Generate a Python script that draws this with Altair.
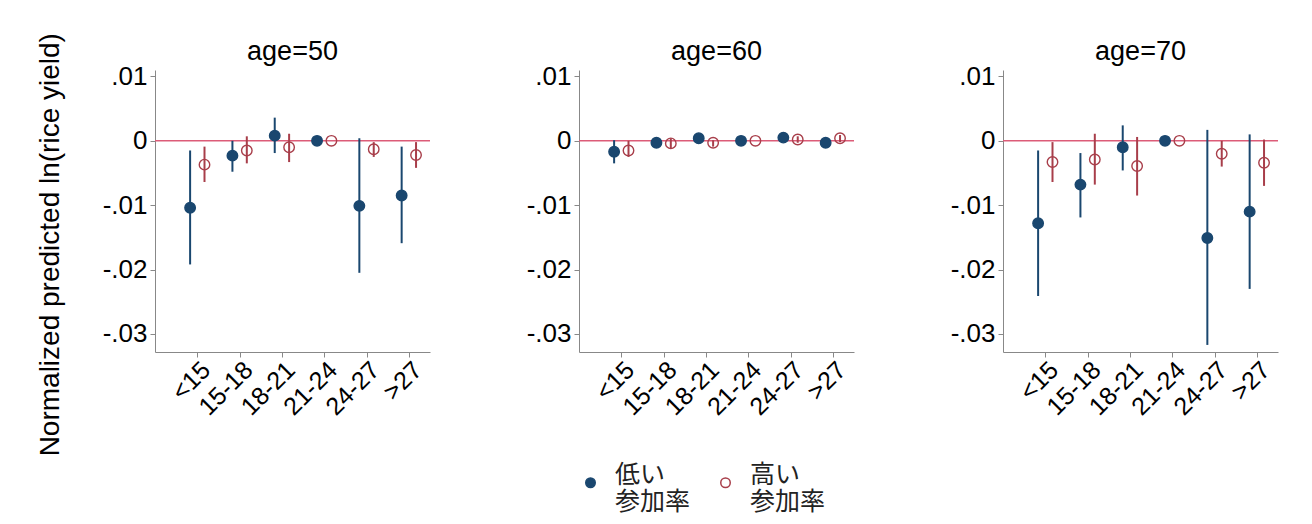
import json
import altair as alt
import pandas as pd

# ---- data ----
categories = ["<15", "15-18", "18-21", "21-24", "24-27", ">27"]
ages = [50, 60, 70]
series_names = ["低い|参加率", "高い|参加率"]

# age=50
low50_est = [-0.0104, -0.0023, 0.0008, 0.0, -0.0101, -0.0085]
low50_lo = [-0.0192, -0.0048, -0.0019, 0.0, -0.0205, -0.0159]
low50_hi = [-0.0015, 0.0000, 0.0036, 0.0, 0.0004, -0.0009]
high50_est = [-0.0037, -0.0015, -0.0010, 0.0, -0.0013, -0.0022]
high50_lo = [-0.0064, -0.0035, -0.0033, 0.0, -0.0025, -0.0042]
high50_hi = [-0.0009, 0.0007, 0.0011, 0.0, -0.0002, -0.0002]

# age=60
low60_est = [-0.0017, -0.0003, 0.0004, 0.0, 0.0005, -0.0003]
low60_lo = [-0.0035, -0.0008, -0.0001, 0.0, 0.0000, -0.0008]
low60_hi = [0.0001, 0.0002, 0.0009, 0.0, 0.0010, 0.0002]
high60_est = [-0.0015, -0.0004, -0.0003, 0.0, 0.0002, 0.0004]
high60_lo = [-0.0025, -0.0012, -0.0009, 0.0, -0.0003, -0.0002]
high60_hi = [0.0000, 0.0004, 0.0001, 0.0, 0.0007, 0.0009]

# age=70
low70_est = [-0.0128, -0.0068, -0.0010, 0.0, -0.0151, -0.0110]
low70_lo = [-0.0241, -0.0119, -0.0046, 0.0, -0.0317, -0.0230]
low70_hi = [-0.0015, -0.0019, 0.0024, 0.0, 0.0017, 0.0010]
high70_est = [-0.0033, -0.0029, -0.0039, 0.0, -0.0020, -0.0034]
high70_lo = [-0.0064, -0.0068, -0.0085, 0.0, -0.0040, -0.0070]
high70_hi = [-0.0002, 0.0011, 0.0006, 0.0, 0.0000, 0.0002]

y_ticks = [0.01, 0.0, -0.01, -0.02, -0.03]
y_title = "Normalized predicted ln(rice yield)"

NAVY = "#1a476f"
MAROON = "#a83e4a"
REF = "#dc5c78"
FONT = "Liberation Sans"
CJK = "Noto Sans CJK JP"

table = {
    50: [(low50_est, low50_lo, low50_hi), (high50_est, high50_lo, high50_hi)],
    60: [(low60_est, low60_lo, low60_hi), (high60_est, high60_lo, high60_hi)],
    70: [(low70_est, low70_lo, low70_hi), (high70_est, high70_lo, high70_hi)],
}
offsets = [-0.17, 0.17]
rows = []
for age in ages:
    for s, (est, lo, hi) in enumerate(table[age]):
        for i, c in enumerate(categories):
            rows.append(dict(age=age, cat=c, idx=i + 1, xpos=i + 1 + offsets[s],
                             series=series_names[s], est=est[i], lo=lo[i], hi=hi[i]))
df = pd.DataFrame(rows)

cat_expr = json.dumps(categories) + "[datum.value - 1]"
ylab_expr = ("datum.value == 0 ? '0' : (datum.value < 0 ? '-' : '') + '.0' + "
             "toString(round(abs(datum.value) * 100))")

color_scale = alt.Scale(domain=series_names, range=[NAVY, MAROON])
fill_scale = alt.Scale(domain=series_names, range=[NAVY, "transparent"])
legend = alt.Legend(title=None, orient="none", legendX=423, legendY=400,
                    direction="horizontal", labelExpr="split(datum.label, '|')",
                    labelFont=CJK, labelFontSize=25,
                    labelColor="#222222", symbolSize=90, symbolStrokeWidth=1.5,
                    columnPadding=22, labelOffset=12, labelBaseline="alphabetic")


def panel(age):
    d = df[df.age == age]
    base = alt.Chart(d)
    xenc = alt.X("xpos:Q", scale=alt.Scale(domain=[0, 6.5], nice=False, zero=False),
                 axis=alt.Axis(values=[1, 2, 3, 4, 5, 6], labelExpr=cat_expr,
                               labelAngle=-45, labelAlign="right", labelBaseline="top",
                               labelOverlap=False, labelBound=False,
                               grid=False, title=None, labelFontSize=25,
                               labelFont=FONT, labelColor="#000000", tickSize=5,
                               domainColor="#888888", tickColor="#888888",
                               labelPadding=0))
    yaxis = alt.Axis(values=y_ticks, labelExpr=ylab_expr, grid=False, title=None,
                     labelFontSize=26, labelFont=FONT, labelColor="#000000",
                     tickSize=5, domainColor="#888888", tickColor="#888888",
                     labelPadding=3)
    yscale = alt.Scale(domain=[-0.0328, 0.011], nice=False, zero=False)

    ref = base.mark_rule(color=REF, strokeWidth=1.5).encode(
        y=alt.datum(0, scale=yscale, axis=yaxis)
    ).transform_filter("datum.idx == 1 && datum.series == '%s'" % series_names[0])

    bars = base.mark_rule(strokeWidth=2).encode(
        x=xenc,
        y=alt.Y("lo:Q", scale=yscale, axis=yaxis),
        y2="hi:Q",
        color=alt.Color("series:N", scale=color_scale, legend=legend),
    ).transform_filter("datum.idx != 4")

    pts = base.mark_point(size=110, opacity=1, strokeWidth=1.4).encode(
        x=xenc,
        y=alt.Y("est:Q", scale=yscale, axis=yaxis),
        color=alt.Color("series:N", scale=color_scale, legend=legend),
        fill=alt.Fill("series:N", scale=fill_scale, legend=legend),
    )

    return alt.layer(ref, bars, pts).properties(
        width=275, height=282,
        title=alt.TitleParams(f"age={age}", fontSize=27, font=FONT,
                              fontWeight="normal", color="#000000", offset=-3),
    )


chart = alt.hconcat(*[panel(a) for a in ages], spacing=95).properties(
    padding={"left": 29, "top": 25, "right": 5, "bottom": 5},
    background="white",
    title=alt.TitleParams(y_title, orient="left", anchor="middle", fontSize=28,
                          font=FONT, fontWeight="normal", color="#000000",
                          offset=37, dx=32),
).configure_view(stroke=None)

chart.save("out.html", embed_options={"renderer": "svg", "actions": False})
